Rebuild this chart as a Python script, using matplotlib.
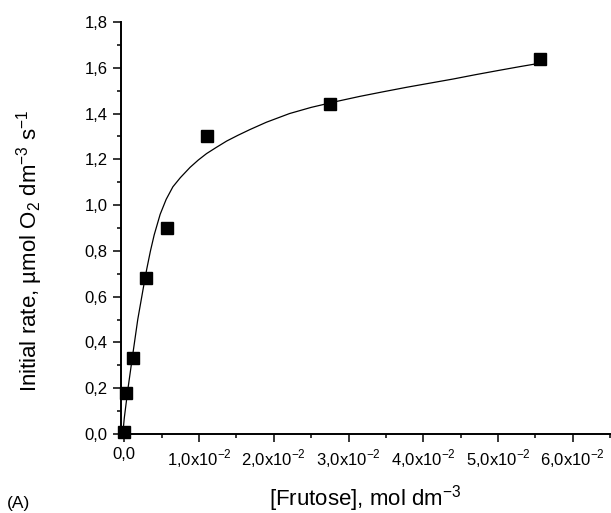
import numpy as np
import matplotlib
matplotlib.use("Agg")
import matplotlib.pyplot as plt
from matplotlib.ticker import MultipleLocator, FixedLocator, FixedFormatter

plt.rcParams['font.family'] = ['Liberation Sans', 'DejaVu Sans']
plt.rcParams['mathtext.fontset'] = 'custom'
plt.rcParams['mathtext.rm'] = 'Liberation Sans'

# measured points
fructose = [0.0, 0.00022, 0.0011, 0.00286, 0.00566, 0.0111, 0.0275, 0.0556]
rate = [0.01, 0.18, 0.33, 0.68, 0.90, 1.30, 1.44, 1.64]

# fitted curve
fit_x = [-0.0002, 0.0, 0.0005, 0.0011, 0.0018, 0.0025, 0.0030, 0.0035, 0.0040,
         0.0048, 0.0056, 0.0065, 0.0075, 0.0088, 0.0099, 0.0110, 0.0123,
         0.0137, 0.0152, 0.0168, 0.0190, 0.0221, 0.0250, 0.0284, 0.0315,
         0.0346, 0.0378, 0.0409, 0.0440, 0.0470, 0.0500, 0.0529, 0.0556]
fit_y = [0.0, 0.07, 0.20, 0.34, 0.50, 0.63, 0.72, 0.80, 0.87,
         0.96, 1.025, 1.08, 1.12, 1.165, 1.197, 1.225, 1.252,
         1.28, 1.305, 1.33, 1.362, 1.40, 1.427, 1.453, 1.475,
         1.495, 1.515, 1.533, 1.551, 1.57, 1.588, 1.605, 1.62]

x_ticks = [0.0, 0.01, 0.02, 0.03, 0.04, 0.05, 0.06]
x_ticklabels = ["0,0"] + [r"%d,0x10$^\mathregular{-2}$" % i for i in range(1, 7)]
y_ticks = [0.0, 0.2, 0.4, 0.6, 0.8, 1.0, 1.2, 1.4, 1.6, 1.8]
y_ticklabels = ["0,0", "0,2", "0,4", "0,6", "0,8", "1,0", "1,2", "1,4", "1,6", "1,8"]

fig = plt.figure(figsize=(6.11, 5.13), dpi=100)
ax = fig.add_axes([121 / 611, 1 - 434 / 513, 490 / 611, 412 / 513])

ax.plot(fit_x, fit_y, color="black", linewidth=0.9, clip_on=False, zorder=2,
        solid_joinstyle="round")
ax.plot(fructose, rate, linestyle="none", marker="s", markersize=9,
        color="black", clip_on=False, zorder=3)

ax.set_xlim(-0.00044, 0.0651)
ax.set_ylim(0, 1.8)

ax.xaxis.set_major_locator(FixedLocator(x_ticks))
ax.xaxis.set_major_formatter(FixedFormatter(x_ticklabels))
ax.xaxis.set_minor_locator(MultipleLocator(0.005))
ax.yaxis.set_major_locator(FixedLocator(y_ticks))
ax.yaxis.set_major_formatter(FixedFormatter(y_ticklabels))
ax.yaxis.set_minor_locator(MultipleLocator(0.1))

for s in ["top", "right"]:
    ax.spines[s].set_visible(False)
for s in ["left", "bottom"]:
    ax.spines[s].set_linewidth(1.4)

ax.tick_params(which="major", direction="out", length=5.5, width=1.1,
               labelsize=12, pad=4)
ax.tick_params(which="minor", direction="out", length=3, width=1.1)

fig.text(30 / 611, 1 - 251 / 513,
         r"Initial rate, µmol O$_\mathregular{2}$ dm$^\mathregular{-3}$ s$^\mathregular{-1}$",
         rotation=90, ha="center", va="center", fontsize=16)
fig.text(365 / 611, 1 - 505 / 513,
         r"[Frutose], mol dm$^\mathregular{-3}$",
         ha="center", va="baseline", fontsize=16)
fig.text(7 / 611, 1 - 508 / 513, "(A)", ha="left", va="baseline", fontsize=12.5)

fig.savefig("out.png", dpi=100)
